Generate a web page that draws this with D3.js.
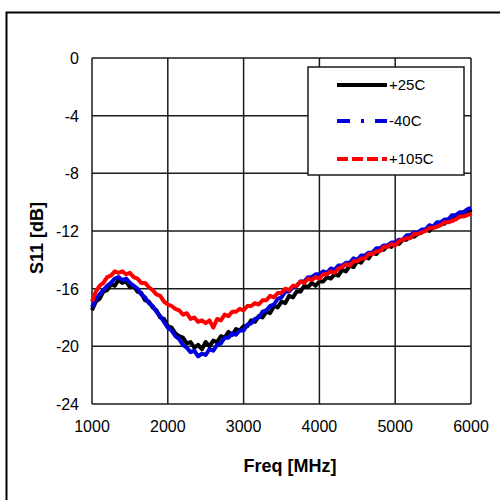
<!DOCTYPE html>
<html><head><meta charset="utf-8">
<script src="https://cdn.jsdelivr.net/npm/d3@7/dist/d3.min.js"></script>
<style>html,body{margin:0;padding:0;background:#fff;}svg{display:block;}</style>
</head><body>
<svg id="c" width="500" height="500"></svg>
<script>
const freqs = [1000,1050,1100,1150,1200,1250,1300,1350,1400,1450,1500,1550,1600,1650,1700,1750,1800,1850,1900,1950,
  2000,2050,2100,2150,2200,2250,2300,2350,2400,2450,2500,2550,2600,2650,2700,2750,2800,2850,2900,2950,
  3000,3050,3100,3150,3200,3250,3300,3350,3400,3450,3500,3550,3600,3650,3700,3750,3800,3850,3900,3950,
  4000,4050,4100,4150,4200,4250,4300,4350,4400,4450,4500,4550,4600,4650,4700,4750,4800,4850,4900,4950,
  5000,5050,5100,5150,5200,5250,5300,5350,5400,5450,5500,5550,5600,5650,5700,5750,5800,5850,5900,5950,6000];
const s25 = [-17.5,-16.9,-16.7,-16.2,-16.1,-15.7,-15.8,-15.4,-15.6,-15.5,-15.9,-15.8,-16.2,-16.3,-16.8,-16.9,-17.3,-17.5,-18.0,-18.1,
  -18.6,-18.7,-19.1,-19.3,-19.4,-19.8,-19.7,-20.1,-19.9,-20.2,-19.7,-20.0,-19.6,-19.7,-19.3,-19.4,-19.0,-19.2,-18.8,-18.9,
  -18.6,-18.6,-18.2,-18.3,-17.9,-18.0,-17.6,-17.7,-17.2,-17.3,-16.9,-17.0,-16.5,-16.6,-16.2,-16.2,-15.8,-15.9,-15.6,-15.8,
  -15.5,-15.5,-15.2,-15.3,-15.0,-15.1,-14.7,-14.8,-14.4,-14.5,-14.1,-14.2,-13.8,-13.9,-13.5,-13.6,-13.3,-13.3,-13.0,-13.1,
  -12.8,-12.9,-12.6,-12.6,-12.3,-12.4,-12.2,-12.1,-11.9,-12.0,-11.7,-11.7,-11.5,-11.5,-11.2,-11.3,-11.0,-11.0,-10.7,-10.8,-10.5];
const sM40 = [-17.3,-16.7,-16.4,-16.1,-15.8,-15.6,-15.3,-15.2,-15.4,-15.3,-15.6,-15.8,-16.0,-16.4,-16.6,-17.0,-17.2,-17.6,-17.9,-18.3,
  -18.7,-18.9,-19.3,-19.5,-19.9,-20.1,-20.4,-20.3,-20.7,-20.5,-20.6,-20.2,-20.3,-19.9,-19.8,-19.4,-19.4,-19.1,-19.2,-18.9,
  -18.9,-18.5,-18.4,-18.1,-18.0,-17.6,-17.5,-17.2,-17.1,-16.7,-16.6,-16.2,-16.2,-15.9,-15.8,-15.5,-15.5,-15.2,-15.2,-15.0,
  -15.0,-14.8,-14.9,-14.6,-14.7,-14.4,-14.4,-14.2,-14.2,-13.9,-14.0,-13.7,-13.7,-13.5,-13.5,-13.2,-13.2,-13.0,-13.0,-12.8,
  -12.8,-12.6,-12.6,-12.3,-12.3,-12.1,-12.1,-11.9,-11.9,-11.6,-11.7,-11.4,-11.4,-11.2,-11.2,-10.9,-10.9,-10.7,-10.7,-10.5,-10.4];
const s105 = [-16.9,-16.2,-15.8,-15.6,-15.2,-15.1,-14.8,-14.9,-14.8,-15.0,-14.9,-15.2,-15.3,-15.6,-15.6,-15.9,-16.1,-16.4,-16.5,-16.9,
  -17.1,-17.2,-17.4,-17.5,-17.8,-17.7,-18.1,-18.0,-18.3,-18.2,-18.4,-18.2,-18.7,-18.1,-18.2,-17.8,-17.9,-17.6,-17.6,-17.4,
  -17.5,-17.2,-17.2,-17.0,-17.1,-16.8,-16.8,-16.5,-16.6,-16.3,-16.3,-16.0,-16.1,-15.8,-15.8,-15.5,-15.6,-15.3,-15.4,-15.2,
  -15.3,-15.0,-15.0,-14.8,-14.9,-14.6,-14.5,-14.3,-14.4,-14.1,-14.1,-13.9,-13.9,-13.6,-13.6,-13.4,-13.4,-13.1,-13.1,-12.9,
  -13.0,-12.7,-12.6,-12.5,-12.5,-12.2,-12.2,-12.1,-12.0,-11.8,-11.8,-11.7,-11.6,-11.4,-11.4,-11.3,-11.2,-11.0,-11.0,-10.9,-10.8];
const seriesNames = ["+25C","-40C","+105C"];
const seriesColors = ["#000000","#0000e0","#ff0000"];
const xTicks = [1000,2000,3000,4000,5000,6000];
const yTicks = [0,-4,-8,-12,-16,-20,-24];

const svg = d3.select("#c");
const font = "'Liberation Sans', Arial, sans-serif";
svg.append("rect").attr("x",6.5).attr("y",12.5).attr("width",600).attr("height",600)
  .attr("fill","none").attr("stroke","#000").attr("stroke-width",2);

const L=92, R=471, T=58, B=404;
const x = d3.scaleLinear().domain([1000,6000]).range([L,R]);
const y = d3.scaleLinear().domain([-24,0]).range([B,T]);

const g = svg.append("g");
g.selectAll(".vg").data(xTicks).enter().append("line")
  .attr("x1",d=>x(d)).attr("x2",d=>x(d)).attr("y1",T).attr("y2",B)
  .attr("stroke","#1a1a1a").attr("stroke-width",1.5);
g.selectAll(".hg").data(yTicks).enter().append("line")
  .attr("y1",d=>y(d)).attr("y2",d=>y(d)).attr("x1",L).attr("x2",R)
  .attr("stroke","#1a1a1a").attr("stroke-width",1.5);
g.selectAll(".xl").data(xTicks).enter().append("text")
  .attr("x",d=>x(d)).attr("y",B+28).attr("text-anchor","middle")
  .attr("font-family",font).attr("font-size",16).attr("fill","#000").text(d=>d);
g.selectAll(".yl").data(yTicks).enter().append("text")
  .attr("x",L-13).attr("y",d=>y(d)+6).attr("text-anchor","end")
  .attr("font-family",font).attr("font-size",16).attr("fill","#000").text(d=>d);
svg.append("text").attr("x",290).attr("y",472).attr("text-anchor","middle")
  .attr("font-family",font).attr("font-size",18).attr("font-weight","bold").text("Freq [MHz]");
svg.append("text").attr("transform","translate(43,238) rotate(-90)").attr("text-anchor","middle")
  .attr("font-family",font).attr("font-size",18).attr("font-weight","bold").text("S11 [dB]");

const line = d3.line().x(d=>x(d[0])).y(d=>y(d[1]));
[s25,sM40,s105].forEach((s,i)=>{
  svg.append("path").datum(freqs.map((f,j)=>[f,s[j]]))
    .attr("d",line).attr("fill","none").attr("stroke",seriesColors[i])
    .attr("stroke-width",4).attr("stroke-linejoin","round");
});

const lg = svg.append("g");
lg.append("rect").attr("x",308).attr("y",67).attr("width",156).attr("height",108)
  .attr("fill","#fff").attr("stroke","#1a1a1a").attr("stroke-width",1.5);
const dashes = [null,"13,11,3,11","11,4"];
const ly = [85,121,159];
seriesNames.forEach((n,i)=>{
  lg.append("line").attr("x1",337).attr("x2",387).attr("y1",ly[i]).attr("y2",ly[i])
    .attr("stroke",seriesColors[i]).attr("stroke-width",4).attr("stroke-dasharray",dashes[i]);
  lg.append("text").attr("x",389).attr("y",ly[i]+5).attr("font-family",font).attr("font-size",15)
    .attr("fill","#000").text(n);
});
</script>
</body></html>
